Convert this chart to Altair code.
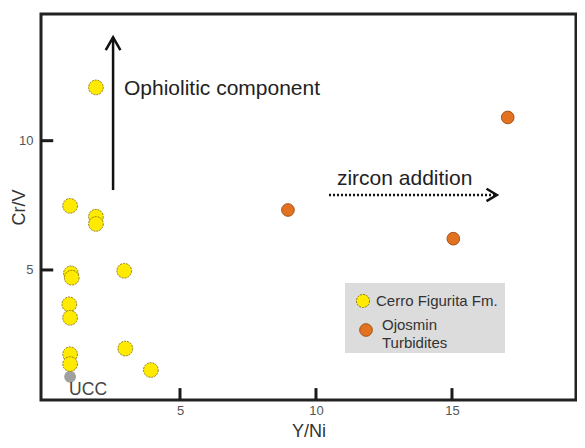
import altair as alt
import pandas as pd

# ---- data ----
cerro_x = [1.91, 0.96, 1.91, 1.91, 0.99, 1.02, 2.95, 0.93, 0.96, 0.96, 0.96, 2.99, 3.93]
cerro_y = [12.06, 7.48, 7.06, 6.78, 4.87, 4.70, 4.97, 3.67, 3.15, 1.74, 1.36, 1.96, 1.13]
ojos_x = [8.97, 17.05, 15.05]
ojos_y = [7.32, 10.90, 6.21]
ucc_x = [0.96]
ucc_y = [0.87]
x_ticks = [5, 10, 15]
y_ticks = [5, 10]

FONT = "Liberation Sans"
W, H = 535, 386
XDOM = [-0.11, 19.56]
YDOM = [-0.03, 14.9]
X_HALF = 0.055   # half tick width in x units (~1.5 px)
Y_HALF = 0.058   # half tick width in y units (~1.5 px)
X_LEN = 0.45     # tick length in x units (~12 px)
Y_LEN = 0.46     # tick length in y units (~12 px)

xs = alt.Scale(domain=XDOM, nice=False, zero=False)
ys = alt.Scale(domain=YDOM, nice=False, zero=False)

xaxis = alt.Axis(
    values=x_ticks, ticks=False, domain=False, grid=False,
    labelFontSize=13, labelColor="#555", labelFont=FONT, labelPadding=4,
    title="Y/Ni", titleFontSize=18, titleFont=FONT, titleFontWeight="normal",
    titleColor="#333", titleY=31, titleBaseline="middle")
yaxis = alt.Axis(
    values=y_ticks, ticks=False, domain=False, grid=False,
    labelFontSize=13, labelColor="#555", labelFont=FONT, labelPadding=8,
    title="Cr/V", titleFontSize=18, titleFont=FONT, titleFontWeight="normal",
    titleColor="#333", titleX=-22, titleY=193, titleAngle=270,
    titleBaseline="middle", titleAlign="center")


def X(f="x"):
    return alt.X(f + ":Q", scale=xs, axis=xaxis)


def Y(f="y"):
    return alt.Y(f + ":Q", scale=ys, axis=yaxis)


cerro = pd.DataFrame({"x": cerro_x, "y": cerro_y})
ojos = pd.DataFrame({"x": ojos_x, "y": ojos_y})
ucc = pd.DataFrame({"x": ucc_x, "y": ucc_y})

# frame drawn as a rectangle over the full scale domain
frame = alt.Chart(pd.DataFrame({"x": [XDOM[0]], "x2": [XDOM[1]],
                                "y": [YDOM[0]], "y2": [YDOM[1]]})).mark_rect(
    fillOpacity=0, stroke="#222", strokeWidth=3).encode(
    x=X(), x2="x2:Q", y=Y(), y2="y2:Q")

# inward ticks, as small filled rectangles through the scales
xt_df = pd.DataFrame({
    "x": [v - X_HALF for v in x_ticks], "x2": [v + X_HALF for v in x_ticks],
    "y": [YDOM[0]] * len(x_ticks), "y2": [YDOM[0] + Y_LEN] * len(x_ticks)})
yt_df = pd.DataFrame({
    "x": [XDOM[0]] * len(y_ticks), "x2": [XDOM[0] + X_LEN] * len(y_ticks),
    "y": [v - Y_HALF for v in y_ticks], "y2": [v + Y_HALF for v in y_ticks]})
xt = alt.Chart(xt_df).mark_rect(color="#1a1a1a").encode(
    x=X(), x2="x2:Q", y=Y(), y2="y2:Q")
yt = alt.Chart(yt_df).mark_rect(color="#1a1a1a").encode(
    x=X(), x2="x2:Q", y=Y(), y2="y2:Q")

p_cerro = alt.Chart(cerro).mark_circle(
    size=215, opacity=1, color="#FFEA00", stroke="#8c7d10", strokeWidth=1,
    strokeDash=[2, 1]).encode(x=X(), y=Y())
p_ojos = alt.Chart(ojos).mark_circle(
    size=160, opacity=1, color="#E2721F", stroke="#a5531a", strokeWidth=1
).encode(x=X(), y=Y())
p_ucc = alt.Chart(ucc).mark_circle(size=140, opacity=1, color="#A0A0A0").encode(x=X(), y=Y())
t_ucc = alt.Chart(pd.DataFrame({"x": ucc_x, "y": ucc_y, "t": ["UCC"]})).mark_text(
    align="left", baseline="top", dx=-1, dy=4, fontSize=17.5, font=FONT, color="#444"
).encode(x=X(), y=Y(), text="t:N")

# Ophiolitic arrow
oph_x = 2.54
oph_y0, oph_y1 = 8.09, 14.0
oph_line = alt.Chart(pd.DataFrame({"x": [oph_x], "y": [oph_y0], "y2": [oph_y1]})).mark_rule(
    color="#111", strokeWidth=2.5).encode(x=X(), y=Y(), y2="y2:Q")
oph_head = alt.Chart(pd.DataFrame({
    "x": [oph_x - 0.27, oph_x, oph_x + 0.27],
    "y": [oph_y1 - 0.5, oph_y1, oph_y1 - 0.5], "o": [0, 1, 2]})).mark_line(
    color="#111", strokeWidth=2.5).encode(x=X(), y=Y(), order="o:Q")
oph_text = alt.Chart(pd.DataFrame({"x": [2.94], "y": [11.76], "t": ["Ophiolitic component"]})).mark_text(
    align="left", baseline="alphabetic", fontSize=21, font=FONT, color="#222").encode(
    x=X(), y=Y(), text="t:N")

# zircon arrow
zx0, zx1, zy = 10.48, 16.65, 7.90
z_line = alt.Chart(pd.DataFrame({"x": [zx0], "x2": [zx1 - 0.05], "y": [zy]})).mark_rule(
    color="#111", strokeWidth=2.5, strokeDash=[2, 2]).encode(x=X(), x2="x2:Q", y=Y())
z_head = alt.Chart(pd.DataFrame({
    "x": [zx1 - 0.38, zx1, zx1 - 0.38],
    "y": [zy + 0.24, zy, zy - 0.24], "o": [0, 1, 2]})).mark_line(
    color="#111", strokeWidth=2.5).encode(x=X(), y=Y(), order="o:Q")
z_text = alt.Chart(pd.DataFrame({"x": [10.77], "y": [8.28], "t": ["zircon addition"]})).mark_text(
    align="left", baseline="alphabetic", fontSize=21, font=FONT, color="#222").encode(
    x=X(), y=Y(), text="t:N")

# legend box (drawn)
leg_box = alt.Chart(pd.DataFrame({"a": [0]})).mark_rect(color="#DCDCDC").encode(
    x=alt.value(304), x2=alt.value(464), y=alt.value(269), y2=alt.value(339))
leg_c1 = alt.Chart(pd.DataFrame({"a": [0]})).mark_circle(
    size=170, opacity=1, color="#FFEA00", stroke="#8c7d10", strokeWidth=1, strokeDash=[2, 1]).encode(
    x=alt.value(322), y=alt.value(287))
leg_c2 = alt.Chart(pd.DataFrame({"a": [0]})).mark_circle(
    size=160, opacity=1, color="#E2721F", stroke="#a5531a", strokeWidth=1).encode(
    x=alt.value(325), y=alt.value(316))
leg_t = alt.Chart(pd.DataFrame({
    "t": ["Cerro Figurita Fm.", "Ojosmin", "Turbidites"],
    "px": [335, 341, 341], "py": [287, 311, 329]})).mark_text(
    align="left", baseline="middle", fontSize=15, font=FONT, color="#333").encode(
    x=alt.X("px:Q", scale=None), y=alt.Y("py:Q", scale=None), text="t:N")

chart = alt.layer(
    p_ucc, p_cerro, p_ojos, t_ucc,
    oph_line, oph_head, oph_text, z_line, z_head, z_text,
    leg_box, leg_c1, leg_c2, leg_t,
    frame, xt, yt,
).properties(
    width=W, height=H, background="white",
    padding={"left": 33, "top": 6, "right": 1, "bottom": 40},
    autosize=alt.AutoSizeParams(type="none"),
).configure_view(strokeWidth=0)

chart.save("out.html", embed_options={"renderer": "svg", "actions": False})
